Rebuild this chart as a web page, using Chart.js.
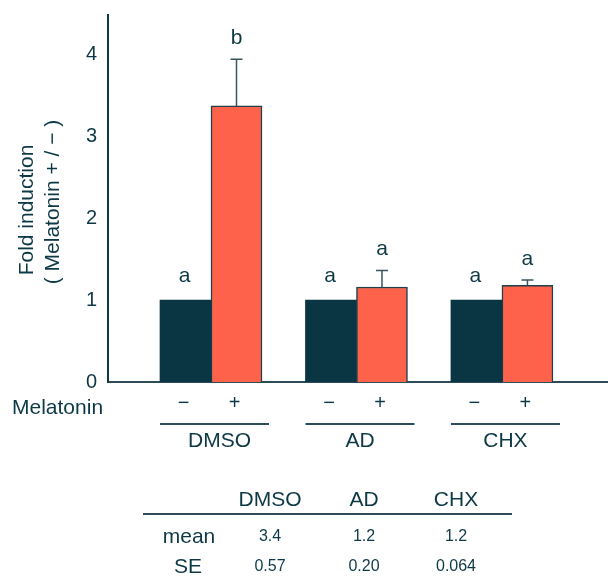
<!DOCTYPE html>
<html>
<head>
<meta charset="utf-8">
<script src="https://cdn.jsdelivr.net/npm/chart.js@4.4.0/dist/chart.umd.js"></script>
<style>
  body { margin: 0; background: #fff; }
  #wrap { width: 608px; height: 580px; position: relative; }
</style>
</head>
<body>
<div id="wrap"><canvas id="c" width="608" height="580"></canvas></div>
<script>
// data
const groups = ['DMSO', 'AD', 'CHX'];
const groupPos = [1, 2, 3];
const minusVals = [1, 1, 1];
const plusVals = [3.37, 1.16, 1.18];
const plusSE = [0.57, 0.20, 0.064];
const minusLetters = ['a', 'a', 'a'];
const plusLetters = ['b', 'a', 'a'];
const yTicks = [0, 1, 2, 3, 4];
const meanLabels = ['3.4', '1.2', '1.2'];
const seLabels = ['0.57', '0.20', '0.064'];

const INK = '#0d3846';
const DARK = '#0a3543';
const RED = '#ff624a';
const FONT = '"Liberation Sans", Arial, sans-serif';

function text(ctx, s, x, y, size, align) {
  ctx.font = size + 'px ' + FONT;
  ctx.fillStyle = INK;
  ctx.textAlign = align || 'center';
  ctx.textBaseline = 'middle';
  ctx.fillText(s, x, y);
}

const extras = {
  id: 'extras',
  afterDatasetsDraw(chart) {
    const ctx = chart.ctx;
    const y = chart.scales.y;
    const plusMeta = chart.getDatasetMeta(1);
    const minusMeta = chart.getDatasetMeta(0);
    ctx.save();
    // error bars
    ctx.strokeStyle = '#3a5560';
    ctx.lineWidth = 1.5;
    plusMeta.data.forEach((bar, i) => {
      const top = y.getPixelForValue(plusVals[i] + plusSE[i]);
      ctx.beginPath();
      ctx.moveTo(bar.x, bar.y);
      ctx.lineTo(bar.x, top);
      ctx.moveTo(bar.x - 6, top);
      ctx.lineTo(bar.x + 6, top);
      ctx.stroke();
    });
    // significance letters
    minusMeta.data.forEach((bar, i) => {
      text(ctx, minusLetters[i], bar.x - 1, bar.y - 24, 21);
    });
    plusMeta.data.forEach((bar, i) => {
      const top = y.getPixelForValue(plusVals[i] + plusSE[i]);
      text(ctx, plusLetters[i], bar.x, top - 21, 21);
    });
    ctx.restore();
  },
  afterDraw(chart) {
    const ctx = chart.ctx;
    const minusMeta = chart.getDatasetMeta(0);
    const plusMeta = chart.getDatasetMeta(1);
    // y title, two rotated lines
    ctx.save();
    ctx.translate(27, 210);
    ctx.rotate(-Math.PI / 2);
    text(ctx, 'Fold induction', 0, 0, 21);
    ctx.restore();
    ctx.save();
    ctx.translate(53, 202);
    ctx.rotate(-Math.PI / 2);
    text(ctx, '( Melatonin + / \u2212 )', 0, 0, 21);
    ctx.restore();

    ctx.save();
    text(ctx, 'Melatonin', 12, 408, 21, 'left');
    groups.forEach((g, i) => {
      const m = minusMeta.data[i], p = plusMeta.data[i];
      text(ctx, '\u2212', m.x - 2, 403, 20);
      text(ctx, '+', p.x - 2, 403, 20);
      const l = m.x - m.width / 2;
      const r = p.x + p.width / 2 + 7;
      ctx.strokeStyle = '#2c4c58';
      ctx.lineWidth = 2;
      ctx.beginPath();
      ctx.moveTo(l, 424);
      ctx.lineTo(r, 424);
      ctx.stroke();
      text(ctx, g, (l + r) / 2 + (i === 0 ? 5 : 0), 441, 21);
    });

    // summary table
    const colX = [270, 364, 456];
    groups.forEach((g, i) => {
      text(ctx, g, colX[i], 500, 21);
      text(ctx, meanLabels[i], colX[i], 537, 16);
      text(ctx, seLabels[i], colX[i], 567, 16);
    });
    ctx.strokeStyle = '#2c4c58';
    ctx.lineWidth = 2;
    ctx.beginPath();
    ctx.moveTo(143, 514);
    ctx.lineTo(512, 514);
    ctx.stroke();
    text(ctx, 'mean', 189, 537, 21);
    text(ctx, 'SE', 188, 567, 21);
    ctx.restore();
  }
};

new Chart(document.getElementById('c'), {
  type: 'bar',
  data: {
    datasets: [
      {
        label: 'Melatonin \u2212',
        data: groupPos.map((x, i) => ({ x, y: minusVals[i] })),
        backgroundColor: DARK,
        borderColor: DARK,
        borderWidth: 0
      },
      {
        label: 'Melatonin +',
        data: groupPos.map((x, i) => ({ x, y: plusVals[i] })),
        backgroundColor: RED,
        borderColor: '#1f3f4a',
        borderWidth: 1.5,
        borderSkipped: 'bottom'
      }
    ]
  },
  options: {
    responsive: false,
    animation: false,
    layout: { padding: { top: 15, left: 0, right: 0, bottom: 0 } },
    barThickness: 51,
    plugins: { legend: { display: false }, tooltip: { enabled: false } },
    scales: {
      x: {
        type: 'linear',
        min: 0.292,
        max: 3.729,
        offset: false,
        grid: { display: false, drawTicks: false },
        border: { display: true, color: '#2c4c58', width: 2 },
        ticks: { display: false },
        afterFit: s => { s.height = 580 - 382; s.paddingLeft = 0; s.paddingRight = 0; }
      },
      y: {
        min: 0,
        max: 4.48,
        grid: { display: false, drawTicks: false },
        border: { display: true, color: '#0d3846', width: 2 },
        ticks: { color: INK, font: { size: 20, family: FONT }, padding: 11 },
        afterBuildTicks: s => { s.ticks = yTicks.map(v => ({ value: v })); },
        afterFit: s => { s.width = 108; s.paddingTop = 0; s.paddingBottom = 0; }
      }
    }
  },
  plugins: [extras]
});
</script>
</body>
</html>
